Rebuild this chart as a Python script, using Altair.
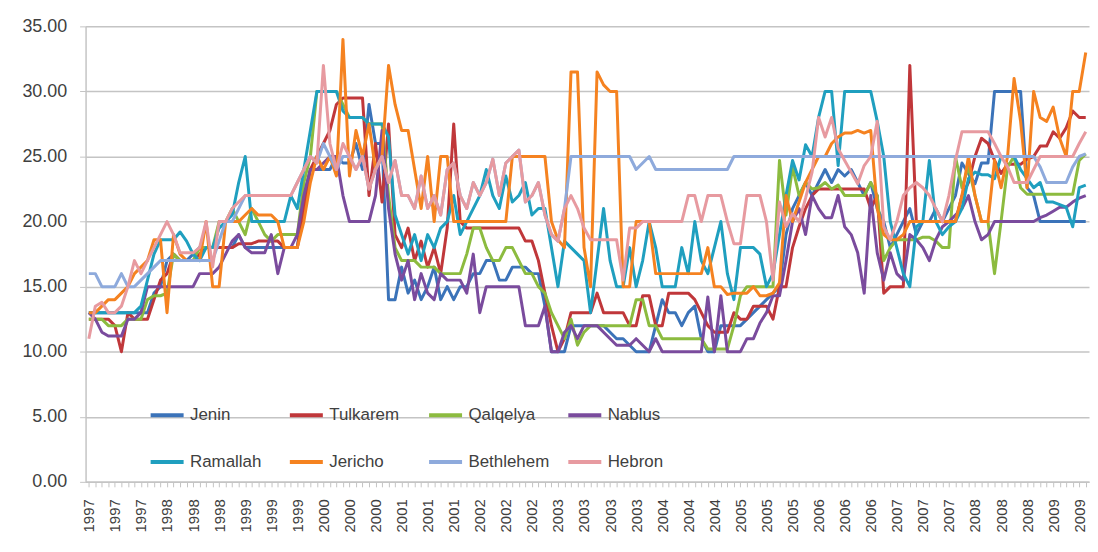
import json
import altair as alt
import pandas as pd

N = 154

cities = ["Jenin", "Tulkarem", "Qalqelya", "Nablus", "Ramallah", "Jericho", "Bethlehem", "Hebron"]
colors = ["#3b73b9", "#c0373a", "#8cbb3f", "#7a4b9d", "#1f9fbf", "#f58220", "#8eaadc", "#e79aa0"]
# legend is filled column by column (2 rows x 4 columns), so list it in that order
legend_order = ["Jenin", "Ramallah", "Tulkarem", "Jericho", "Qalqelya", "Bethlehem", "Nablus", "Hebron"]

tick_years = ["1997", "1997", "1997", "1998", "1998", "1998", "1999", "1999", "1999",
              "2000", "2000", "2000", "2001", "2001", "2001", "2002", "2002", "2002",
              "2003", "2003", "2003", "2003", "2004", "2004", "2004", "2005", "2005", "2005",
              "2006", "2006", "2006", "2007", "2007", "2007", "2008", "2008", "2008",
              "2009", "2009"]

jenin = [13, 13, 13, 13, 13, 13, 13, 13, 13, 13,
         14.5, 15, 17, 17.5, 17, 17, 17.5, 18, 18, 18,
         18, 18, 18, 19, 18, 18, 18, 18, 18, 18,
         18, 18, 18, 22, 24, 24, 24, 24, 25, 24.5,
         24.5, 26, 24, 29, 26, 26, 14, 14, 16.5, 14.5,
         15.5, 14, 15, 16.5, 14, 15, 14, 15, 15, 16,
         16, 17, 17, 15.5, 15.5, 16.5, 16.5, 16.5, 16, 16,
         13.5, 10, 10, 10, 12, 12, 12, 12, 12, 12,
         11.5, 11, 11, 10.5, 10, 10, 10, 12, 14, 13,
         13, 12, 13, 13.5, 11, 10, 10, 12, 12, 12,
         12, 12.5, 13, 13.5, 14, 14.5, 15, 19, 21, 22,
         23, 22, 23, 24, 23, 24, 23.5, 24, 23, 22,
         23, 21, 20, 18, 19, 20, 21, 19, 20, 20,
         21, 20, 21, 22, 24.5, 23.7, 22.9, 24.5, 24.5, 30,
         30, 30, 30, 30, 22.6, 22, 20, 20, 20, 20,
         20, 20, 20, 20]

tulkarem = [12.5, 12.5, 12.5, 12.5, 12, 10, 13, 12.5, 12.5, 12.5,
            14, 15.5, 16, 17.5, 17, 17, 17, 17.5, 18, 18,
            18, 18, 18, 18.3, 18.3, 18.3, 18.5, 18.5, 18.5, 18.5,
            18, 18, 18, 21, 24, 25, 26, 27, 29, 29.5,
            29.5, 29.5, 29.5, 22, 26, 21.5, 27.5, 19, 18, 19.5,
            17, 18.5, 16.5, 18, 16, 19.5, 27.5, 20, 19.5, 19.5,
            19.5, 19.5, 19.5, 19.5, 19.5, 19.5, 19.5, 18.5, 18.5, 17,
            14.5, 12, 10, 11, 13, 13, 13, 13, 14.5, 13,
            13, 13, 13, 12, 12, 14.3, 14.3, 12, 12, 14.5,
            14.5, 14.5, 14.5, 14, 13, 12, 11.5, 11.5, 11.5, 13,
            12.5, 12.5, 13.5, 13.5, 13.5, 12.5, 15, 15, 18, 19.6,
            21, 22, 22.5, 22.5, 22.5, 22.5, 22.5, 22.5, 22.5, 22.5,
            21, 22, 14.5, 15, 15, 15, 32, 20, 20, 20,
            20, 20, 20, 20, 22, 23, 25, 26.4, 26, 24.7,
            23.7, 24.4, 24.4, 24.4, 24.8, 25, 25.8, 25.8, 26.9, 26.4,
            27.2, 28.5, 28, 28]

qalqelya = [12.5, 12.5, 12.5, 12, 12, 12, 12.5, 12.5, 12.5, 14,
            14.3, 14.3, 14.5, 17.5, 17, 17, 17, 18, 18, 18,
            20, 20, 21, 20, 19, 21, 20, 19, 18.5, 19,
            19, 19, 19, 23, 25, 30, 30, 30, 30, 29,
            28, 28, 28, 27.5, 27.5, 27.5, 22, 18, 17, 17,
            17, 16.5, 16.5, 16.5, 16, 16, 16, 16, 17.5, 19.5,
            19.5, 18, 17, 17, 18, 18, 17, 16, 16, 15,
            14.5, 13, 12, 11, 12.5, 10.5, 11.5, 12, 12, 12,
            12, 12, 12, 12, 14, 14, 12, 12, 11, 11,
            11, 11, 11, 11, 11, 10.2, 10.2, 10.2, 10.2, 12,
            14.3, 15, 15, 15, 15, 15, 24.7, 20.5, 24.2, 22,
            23, 22.5, 22.6, 23, 22.5, 22.8, 22, 22, 22, 22,
            23, 22, 17, 18, 18.6, 18.6, 18.6, 18.6, 18.8, 18.8,
            18.5, 18, 18, 25, 22.6, 24.2, 22, 20, 20, 16,
            20, 24.2, 25, 22.6, 22.1, 22.1, 22.1, 22.1, 22.1, 22.1,
            22.1, 22.1, 24.7, 25.2]

nablus = [13, 12.5, 11.5, 11.2, 11.2, 11.2, 12.5, 12.5, 13, 15,
          15, 15, 15, 15, 15, 15, 15, 16, 16, 16,
          16.5, 17.5, 18.5, 19, 18, 17.6, 17.6, 17.6, 19, 16,
          18, 18, 19, 22, 24, 24, 24.5, 25, 25, 22,
          20, 20, 20, 20, 22, 27, 21, 17.5, 15.5, 17,
          14, 16, 14.5, 14, 16, 15.5, 15.5, 15.5, 14.5, 17.5,
          13, 15, 15, 15, 15, 15, 15, 12, 12, 12,
          13.5, 10, 10, 11.5, 12, 11, 12, 12, 12, 11.5,
          11, 10.5, 10.5, 10.5, 11, 10.5, 10, 11, 10, 10,
          10, 10, 10, 10, 10, 14.2, 10, 14.3, 10, 10,
          10, 11, 11, 12.2, 13, 14.3, 14.3, 17, 20, 21,
          19, 22, 21, 20.3, 20.3, 22, 19.6, 19, 17.6, 14.5,
          22, 17.6, 15.5, 17.6, 16, 15.5, 19, 18.6, 18, 17,
          18.6, 19.6, 20, 20.5, 21, 22, 20, 18.6, 19, 20,
          20, 20, 20, 20, 20, 20, 20.3, 20.5, 20.8, 21.1,
          21.1, 21.5, 21.8, 22]

ramallah = [13, 13, 13, 13, 13, 13, 13, 13, 13.5, 15.5,
            17.5, 18.6, 18.6, 18.6, 19.2, 18.5, 17.5, 17, 18, 18,
            19.5, 20, 20.5, 23, 25, 20, 20, 20, 20, 20,
            20, 22, 21, 24, 27, 30, 30, 30, 30, 28.5,
            28, 28, 28, 27.5, 27.5, 27.5, 26.5, 20.5, 19, 17.5,
            19, 17, 19, 18, 19.5, 20, 22, 19, 20, 21,
            22, 24, 22, 21, 23.5, 21.5, 22, 23, 20.5, 21,
            21, 18, 15, 18.5, 18, 17.5, 17, 13, 17, 21,
            17, 15, 15, 18, 15, 17, 20, 18, 15, 15,
            15, 18, 16, 20, 17, 16, 18, 20, 16, 14,
            18, 18, 18, 17.5, 15, 16, 19, 22, 24.7, 23.2,
            25.9, 25, 28, 30, 30, 24.3, 30, 30, 30, 30,
            30, 27.7, 25, 20, 18, 16, 15, 19.6, 20, 24.7,
            20, 19, 19.6, 20, 21, 23.3, 23.8, 23.6, 23.6, 23.3,
            25, 25, 25, 24, 23.3, 22.6, 23, 21.5, 21.5, 21.3,
            21.1, 19.6, 22.6, 22.8]

jericho = [13, 13, 13.5, 14, 14, 14.5, 15, 16, 16.5, 17,
           18.6, 18.6, 13, 19, 17.5, 17, 17, 17, 20, 15,
           15, 20, 20, 20, 20.5, 21, 20.5, 20.5, 20.5, 20,
           18, 18, 18, 20, 23, 25, 24, 25, 23.5, 34,
           23.5, 27, 25, 27.5, 24, 25, 32, 29, 27, 27,
           24, 21, 25, 20, 25, 25, 20, 20, 20, 20,
           20, 20, 20, 20, 20, 25, 25, 25, 25, 25,
           25, 20, 18.6, 18, 31.5, 31.5, 18, 15, 31.5, 30.5,
           30, 30, 15, 15, 20, 20, 20, 16, 16, 16,
           16, 16, 16, 16, 16, 18, 15, 15, 14.4, 14.5,
           14.5, 14.5, 15, 14.3, 14.3, 14.5, 15.3, 22, 20, 21.5,
           23, 24, 25, 25, 26, 26.5, 26.8, 26.8, 27, 26.8,
           27, 21, 19, 18.6, 18.6, 19, 20, 20, 20, 20,
           20, 20, 20, 20, 22, 25, 22, 20, 20, 24.7,
           22.6, 25, 31, 27.7, 22.6, 30, 28, 27.7, 28.8, 26.4,
           25, 30, 30, 33]

bethlehem = [16, 16, 15, 15, 15, 16, 15, 15, 15.5, 16,
             16.5, 17, 17, 17, 17, 17, 17, 17, 17, 17,
             18.5, 20, 20, 21, 22, 22, 22, 22, 22, 22,
             22, 22, 23, 24, 25, 24.5, 26, 25, 24, 25,
             25, 24, 25, 22.5, 24, 25, 23, 24.7, 22, 22,
             21, 23.5, 21, 22, 20.5, 24, 24.5, 22, 21, 23,
             22, 23, 24.8, 22, 24.5, 25, 25.5, 21.5, 22, 23,
             20.5, 19, 18.5, 21, 25, 25, 25, 25, 25, 25,
             25, 25, 25, 25, 24, 24.5, 25, 24, 24, 24,
             24, 24, 24, 24, 24, 24, 24, 24, 24, 25,
             25, 25, 25, 25, 25, 25, 25, 25, 25, 25,
             25, 25, 25, 25, 25, 25, 25, 25, 25, 25,
             25, 25, 25, 25, 25, 25, 25, 25, 25, 25,
             25, 25, 25, 25, 25, 25, 25, 25, 25, 25,
             25, 25, 25, 25, 25, 25, 24.2, 23, 23, 23,
             23, 24.2, 25, 25.2]

hebron = [11, 13.5, 13.8, 13, 13, 13.5, 15, 17, 16, 17,
          18, 19, 20, 19, 17.6, 17.6, 17.6, 18, 20, 16.5,
          20, 20, 21, 21.5, 22, 22, 22, 22, 22, 22,
          22, 22, 23, 24, 25, 24.5, 32, 26, 24, 26,
          25, 24, 25, 22.5, 24, 25, 23, 24.7, 22, 22,
          21, 23.5, 21, 22, 20.5, 24, 24.5, 22, 21, 23,
          22, 23, 24.8, 22, 24.5, 25, 25.5, 21.5, 22, 23,
          20.5, 19, 18.5, 21, 22, 21, 19.5, 18.6, 18.6, 18.6,
          18.6, 18.6, 15.5, 19.5, 19.5, 20, 20, 20, 20, 20,
          20, 20, 22, 22, 20, 22, 22, 22, 20, 18.3,
          18.3, 22, 22, 22, 20, 15.5, 21.5, 19.6, 20.6, 20,
          21.8, 23.8, 28, 26.5, 28, 25.6, 24.7, 23.8, 22.9, 24.3,
          25, 27.7, 19.6, 18.6, 20, 22, 22.6, 23, 22.6, 22,
          21, 20, 22, 24.7, 26.9, 26.9, 26.9, 26.9, 26.9, 26,
          25, 24.2, 23, 23, 23, 24, 25, 25, 25, 25,
          25, 25, 26, 26.9]

series = [jenin, tulkarem, qalqelya, nablus, ramallah, jericho, bethlehem, hebron]
for name, vals in zip(cities, series):
    assert len(vals) == N, (name, len(vals))

rows = []
for k, (name, vals) in enumerate(zip(cities, series)):
    for i, v in enumerate(vals):
        rows.append({"idx": i, "value": v, "city": name, "k": k})
df = pd.DataFrame(rows)

color_of = dict(zip(cities, colors))
legend_colors = [color_of[c] for c in legend_order]

label_expr = "datum.value % 4 == 0 ? " + json.dumps(tick_years) + "[datum.value / 4] : ''"

grid_c = "#c4c4c4"
text_c = "#404040"

chart = alt.Chart(df).mark_line(strokeWidth=3, strokeJoin="round").encode(
    x=alt.X("idx:Q",
            scale=alt.Scale(domain=[-0.5, N - 0.5], nice=False, zero=False),
            axis=alt.Axis(values=list(range(N)), labelExpr=label_expr, labelAngle=-90,
                          labelOverlap=False, labelFlush=False, grid=False, title=None,
                          tickSize=5, tickColor=grid_c, domainColor=grid_c, domainWidth=1.5,
                          labelPadding=12, labelFontSize=15, labelColor=text_c)),
    y=alt.Y("value:Q",
            scale=alt.Scale(domain=[0, 35], nice=False),
            axis=alt.Axis(values=[0, 5, 10, 15, 20, 25, 30, 35], format=".2f", title=None,
                          tickSize=6, tickColor=grid_c, gridColor=grid_c, gridWidth=1.5,
                          domainColor=grid_c, domainWidth=1.5, labelPadding=13,
                          labelFontSize=18, labelColor=text_c)),
    color=alt.Color("city:N",
                    scale=alt.Scale(domain=legend_order, range=legend_colors),
                    legend=alt.Legend(orient="none", legendX=63, legendY=372, columns=4,
                                      title=None, symbolType="stroke", symbolStrokeWidth=4,
                                      symbolSize=1100, labelFontSize=17, labelColor=text_c,
                                      gridAlign="all", columnPadding=10, rowPadding=20,
                                      labelOffset=4)),
    order=alt.Order("k:Q"),
).properties(
    width=1009,
    height=458,
    autosize=alt.AutoSizeParams(type="none"),
    padding={"left": 78, "top": 17, "right": 1, "bottom": 55},
).configure(
    font="Liberation Sans",
).configure_view(
    stroke=None,
)

chart.save("out.html", embed_options={"renderer": "svg", "actions": False})
